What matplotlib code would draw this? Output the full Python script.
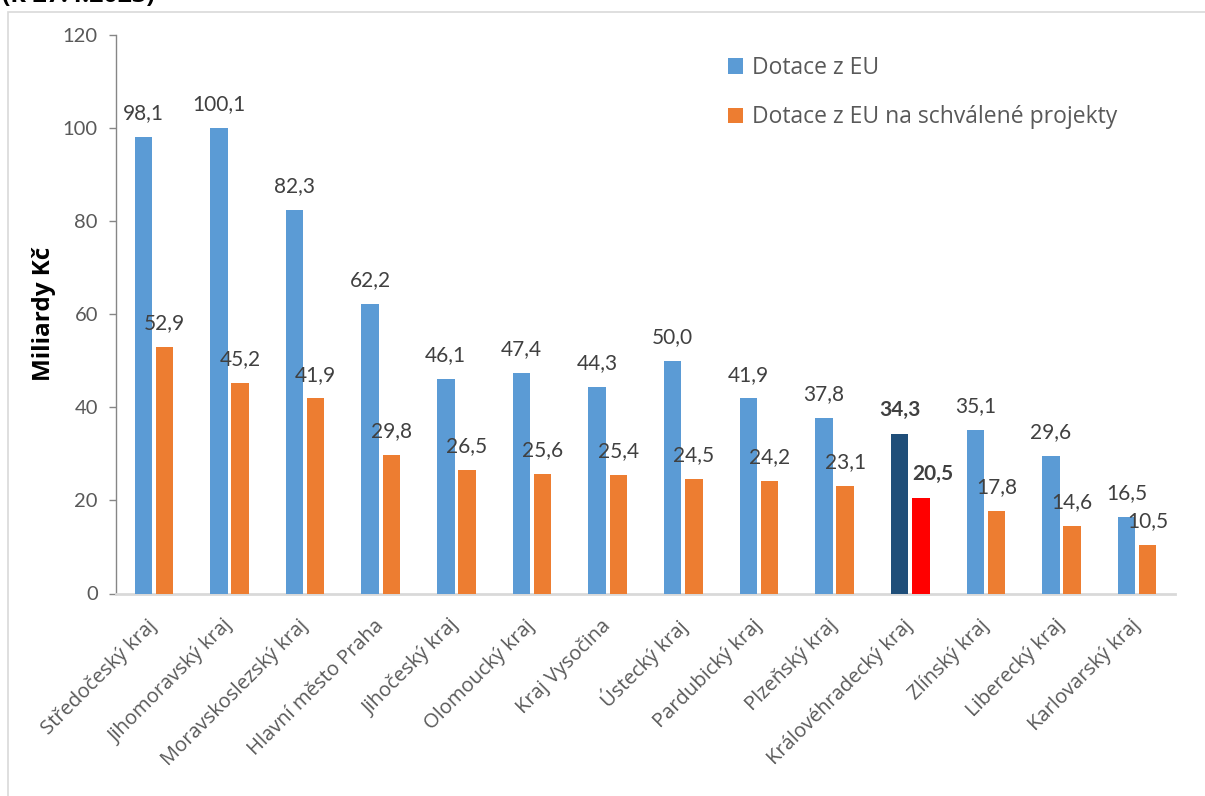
import matplotlib
matplotlib.use("Agg")
import matplotlib.pyplot as plt
import numpy as np
from matplotlib.patches import Rectangle

categories = ["Středočeský kraj", "Jihomoravský kraj", "Moravskoslezský kraj",
              "Hlavní město Praha", "Jihočeský kraj", "Olomoucký kraj",
              "Kraj Vysočina", "Ústecký kraj", "Pardubický kraj", "Plzeňský kraj",
              "Královéhradecký kraj", "Zlínský kraj", "Liberecký kraj",
              "Karlovarský kraj"]
dotace_eu = [98.1, 100.1, 82.3, 62.2, 46.1, 47.4, 44.3, 50.0, 41.9, 37.8,
             34.3, 35.1, 29.6, 16.5]
dotace_schvalene = [52.9, 45.2, 41.9, 29.8, 26.5, 25.6, 25.4, 24.5, 24.2,
                    23.1, 20.5, 17.8, 14.6, 10.5]
series_names = ["Dotace z EU", "Dotace z EU na schválené projekty"]
highlight = "Královéhradecký kraj"
yticks = [0, 20, 40, 60, 80, 100, 120]

NUMF = ["Lato", "DejaVu Sans"]
TXTF = ["Open Sans", "DejaVu Sans"]
plt.rcParams["font.family"] = NUMF

W, H = 1205, 796
fig = plt.figure(figsize=(W / 100, H / 100), dpi=100)
ax = fig.add_axes([116 / W, 1 - 593.5 / H, (1175 - 116) / W, (593.5 - 35) / H])

# outer border (partially visible)
fig.patches.append(Rectangle((8 / W, -0.05), 1.2, 1 - 12 / H + 0.05,
                             transform=fig.transFigure, fill=False,
                             edgecolor="#d9d9d9", linewidth=1.2))
fig.text(2 / W, 1 - 2 / H, "(k 27.4.2023)", fontsize=18, fontweight="bold",
         va="baseline", ha="left", color="black", family=TXTF)

x = np.arange(len(categories))
w = 0.23
off = 0.14
blue_c = ["#1F4E79" if c == highlight else "#5B9BD5" for c in categories]
orng_c = ["#FF0000" if c == highlight else "#ED7D31" for c in categories]
b1 = ax.bar(x - off, dotace_eu, w, color=blue_c, label=series_names[0], zorder=3)
b2 = ax.bar(x + off, dotace_schvalene, w, color=orng_c, label=series_names[1], zorder=3)

for k, (bars, vals) in enumerate(((b1, dotace_eu), (b2, dotace_schvalene))):
    for i, (r, v) in enumerate(zip(bars, vals)):
        bold = categories[i] == highlight
        if bold and k == 1:
            xa, ha = r.get_x(), "left"
        else:
            xa, ha = r.get_x() + r.get_width() / 2, "center"
        ax.annotate(f"{v:.1f}".replace(".", ","), (xa, v),
                    xytext=(0, 10), textcoords="offset points",
                    ha=ha, va="bottom", fontsize=15,
                    fontweight="bold" if bold else "normal",
                    color="#404040")

ax.set_xlim(-0.5, len(categories) - 0.5)
ax.set_ylim(0, 120)
ax.set_yticks(yticks)
ax.set_yticklabels([str(t) for t in yticks], fontsize=14.5, color="#595959")
ax.set_xticks(x)
ax.set_xticklabels(categories, rotation=45, ha="right", va="center",
                   rotation_mode="anchor", fontsize=14.5, color="#595959",
                   family=TXTF)
ax.tick_params(axis="x", length=0, pad=21)
ax.tick_params(axis="y", length=5, width=1, color="#868686", pad=8)

for s in ("top", "right"):
    ax.spines[s].set_visible(False)
ax.spines["left"].set_color("#868686")
ax.spines["left"].set_linewidth(1)
ax.spines["bottom"].set_color("#d9d9d9")
ax.spines["bottom"].set_linewidth(2)

ax.set_ylabel("Miliardy Kč", fontsize=17.5, fontweight="bold", color="black",
              labelpad=5, family=TXTF)

leg = ax.legend(loc="upper left", bbox_to_anchor=(728 / W, 1 - 56 / H),
                bbox_transform=fig.transFigure, frameon=False,
                prop={"family": TXTF, "size": 16.5},
                handlelength=0.65, handleheight=0.65, handletextpad=0.4,
                labelspacing=1.1, borderpad=0, borderaxespad=0)
for t in leg.get_texts():
    t.set_color("#595959")

fig.savefig("out.png", dpi=100)
